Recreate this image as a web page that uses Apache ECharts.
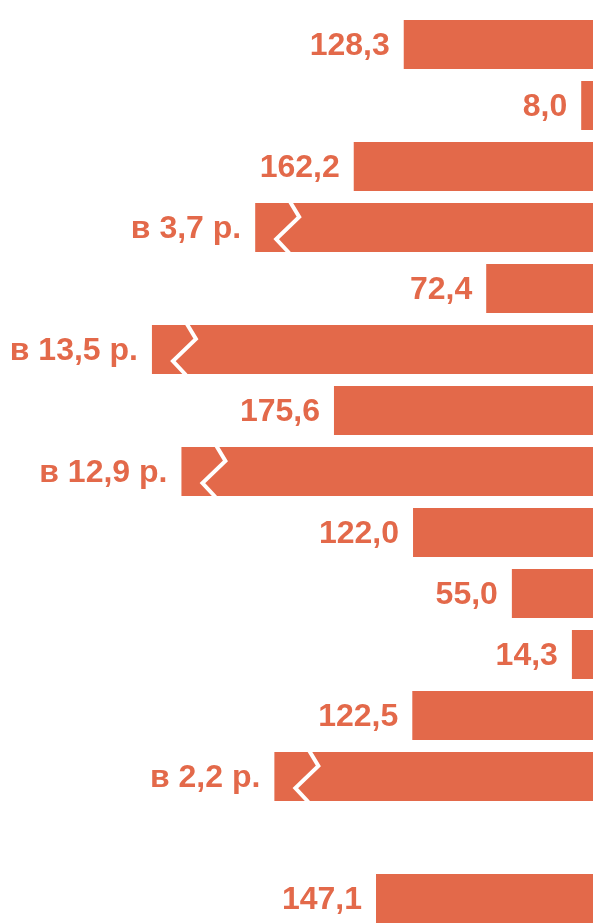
<!DOCTYPE html>
<html>
<head>
<meta charset="utf-8">
<script src="https://cdn.jsdelivr.net/npm/echarts@6/dist/echarts.min.js"></script>
<style>
html,body{margin:0;padding:0;background:#fff;}
#c{width:593px;height:924px;}
</style>
</head>
<body>
<div id="c"></div>
<script>
// Row identifiers (top to bottom)
const categories = ['1','2','3','4','5','6','7','8','9','10','11','12','13','14','15'];
// Text shown beside each bar
const labels = ['128,3','8,0','162,2','в 3,7 р.','72,4','в 13,5 р.','175,6','в 12,9 р.','122,0','55,0','14,3','122,5','в 2,2 р.','','147,1'];
// Bar lengths (broken bars use their drawn length)
const values = [128.3, 8.0, 162.2, 229, 72.4, 299, 175.6, 279, 122.0, 55.0, 14.3, 122.5, 216, null, 147.1];
// Which bars carry a scale-break mark
const broken = [false,false,false,true,false,true,false,true,false,false,false,false,true,false,false];

const COLOR = '#E3694A';
const breakData = [];
values.forEach((v, i) => { if (broken[i]) breakData.push([v, i]); });

const chart = echarts.init(document.getElementById('c'), null, {renderer: 'canvas'});
chart.setOption({
  animation: false,
  grid: {left: 0, right: 0, top: 44.5, bottom: 25.5, containLabel: false},
  xAxis: {type: 'value', inverse: true, min: 0, max: 402, show: false},
  yAxis: {type: 'category', inverse: true, boundaryGap: false, data: categories, show: false},
  series: [
    {
      type: 'bar',
      data: values,
      barWidth: 49,
      itemStyle: {color: COLOR},
      label: {
        show: true,
        position: 'left',
        distance: 14,
        offset: [0, 2],
        color: COLOR,
        fontSize: 32,
        fontWeight: 'bold',
        fontFamily: 'Liberation Sans, Arial, sans-serif',
        formatter: p => labels[p.dataIndex]
      }
    },
    {
      type: 'custom',
      z: 10,
      data: breakData,
      encode: {x: 0, y: 1},
      renderItem: function (params, api) {
        const p = api.coord([api.value(0), api.value(1)]);
        const x0 = p[0];
        const top = p[1] - 24.5;
        return {
          type: 'polyline',
          shape: {points: [[x0 + 35, top - 1], [x0 + 44, top + 14], [x0 + 21, top + 36], [x0 + 34, top + 50]]},
          style: {stroke: '#fff', lineWidth: 4, fill: null, lineJoin: 'miter'}
        };
      }
    }
  ]
});
</script>
</body>
</html>
